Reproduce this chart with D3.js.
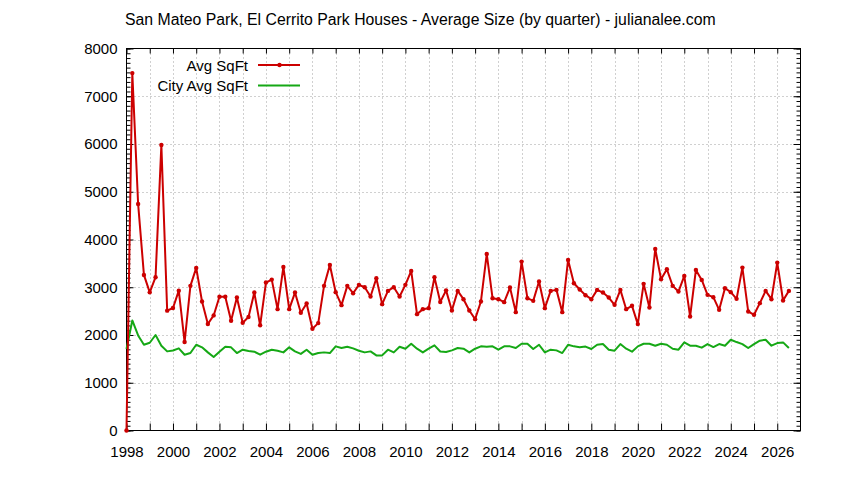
<!DOCTYPE html>
<html>
<head>
<meta charset="utf-8">
<script src="https://cdn.jsdelivr.net/npm/d3@7"></script>
<style>
  html, body { margin: 0; padding: 0; background: #ffffff; }
  svg { display: block; }
  text { font-family: "Liberation Sans", Arial, sans-serif; fill: #000; }
</style>
</head>
<body>
<svg id="chart" width="844" height="480"></svg>
<script>
// ---- data (quarterly, decimal year) ----
const quarters = [
  1998.00, 1998.25, 1998.50, 1998.75,
  1999.00, 1999.25, 1999.50, 1999.75,
  2000.00, 2000.25, 2000.50, 2000.75,
  2001.00, 2001.25, 2001.50, 2001.75,
  2002.00, 2002.25, 2002.50, 2002.75,
  2003.00, 2003.25, 2003.50, 2003.75,
  2004.00, 2004.25, 2004.50, 2004.75,
  2005.00, 2005.25, 2005.50, 2005.75,
  2006.00, 2006.25, 2006.50, 2006.75,
  2007.00, 2007.25, 2007.50, 2007.75,
  2008.00, 2008.25, 2008.50, 2008.75,
  2009.00, 2009.25, 2009.50, 2009.75,
  2010.00, 2010.25, 2010.50, 2010.75,
  2011.00, 2011.25, 2011.50, 2011.75,
  2012.00, 2012.25, 2012.50, 2012.75,
  2013.00, 2013.25, 2013.50, 2013.75,
  2014.00, 2014.25, 2014.50, 2014.75,
  2015.00, 2015.25, 2015.50, 2015.75,
  2016.00, 2016.25, 2016.50, 2016.75,
  2017.00, 2017.25, 2017.50, 2017.75,
  2018.00, 2018.25, 2018.50, 2018.75,
  2019.00, 2019.25, 2019.50, 2019.75,
  2020.00, 2020.25, 2020.50, 2020.75,
  2021.00, 2021.25, 2021.50, 2021.75,
  2022.00, 2022.25, 2022.50, 2022.75,
  2023.00, 2023.25, 2023.50, 2023.75,
  2024.00, 2024.25, 2024.50, 2024.75,
  2025.00, 2025.25, 2025.50, 2025.75,
  2026.00, 2026.25, 2026.50
];

const avgSqFt = [
  0, 7485, 4745, 3258,
  2893, 3210, 5980, 2510,
  2565, 2928, 1852, 3029,
  3405, 2702, 2230, 2410,
  2802, 2802, 2298, 2785,
  2256, 2378, 2889, 2203,
  3098, 3160, 2541, 3425,
  2541, 2889, 2465, 2660,
  2131, 2249, 3029, 3467,
  2897, 2625, 3029, 2875,
  3050, 3001, 2806, 3189,
  2646, 2924, 3001, 2806,
  3050, 3342, 2437, 2541,
  2562, 3210, 2690, 2935,
  2513, 2924, 2750, 2513,
  2332, 2702, 3697, 2771,
  2750, 2688, 2994, 2479,
  3537, 2771, 2715, 3119,
  2562, 2924, 2945, 2479,
  3572, 3084, 2952, 2834,
  2750, 2945, 2889, 2785,
  2632, 2945, 2541, 2611,
  2228, 3071, 2576, 3802,
  3168, 3377, 3029, 2910,
  3238, 2388, 3363, 3154,
  2841, 2792, 2527, 2980,
  2897, 2757, 3412, 2493,
  2423, 2667, 2924, 2750,
  3516, 2722, 2924
];

const cityAvgSqFt = [
  1706, 2304, 1990, 1796,
  1838, 2000, 1775, 1657,
  1675, 1720, 1587, 1622,
  1796, 1741, 1636, 1539,
  1650, 1755, 1741, 1622,
  1692, 1664, 1650, 1587,
  1650, 1692, 1671, 1636,
  1741, 1657, 1604, 1690,
  1587, 1622, 1636, 1622,
  1762, 1727, 1755, 1720,
  1671, 1636, 1657, 1573,
  1573, 1692, 1636, 1755,
  1713, 1817, 1713, 1636,
  1713, 1783, 1655, 1645,
  1678, 1727, 1713, 1636,
  1713, 1762, 1755, 1762,
  1692, 1762, 1762, 1727,
  1817, 1817, 1706, 1796,
  1636, 1692, 1678, 1622,
  1796, 1762, 1745, 1758,
  1706, 1796, 1810, 1692,
  1671, 1810, 1713, 1650,
  1762, 1817, 1817, 1776,
  1817, 1796, 1713, 1692,
  1845, 1776, 1776, 1735,
  1810, 1748, 1810, 1776,
  1901, 1852, 1810, 1727,
  1810, 1880, 1901, 1776,
  1831, 1845, 1727
];

const xTickLabels = [1998, 2000, 2002, 2004, 2006, 2008, 2010, 2012, 2014, 2016, 2018, 2020, 2022, 2024, 2026];
const yTickLabels = [0, 1000, 2000, 3000, 4000, 5000, 6000, 7000, 8000];
const seriesNames = ["Avg SqFt", "City Avg SqFt"];
const titleText = "San Mateo Park, El Cerrito Park Houses - Average Size (by quarter) - julianalee.com";

// ---- layout ----
const W = 844, H = 480;
const plot = { left: 126.5, right: 800.5, top: 48.5, bottom: 430.5 };
const RED = "#cc0000", GREEN = "#15a815";
const FONT = "15px";

const svg = d3.select("#chart");

const x = d3.scaleLinear().domain([1998, 2027]).range([plot.left, plot.right]);
const y = d3.scaleLinear().domain([0, 8000]).range([plot.bottom, plot.top]);

const yearTicks = d3.range(1998, 2028);       // tick every year
const yMinor = d3.range(0, 8001, 100);         // minor every 100

// grid
const grid = svg.append("g").attr("stroke", "#a0a0a0").attr("stroke-width", 1)
  .attr("stroke-dasharray", "1,3");
grid.selectAll("line.v").data(yearTicks.filter(d => d > 1998 && d < 2027)).enter()
  .append("line")
  .attr("x1", d => Math.round(x(d)) + 0.5).attr("x2", d => Math.round(x(d)) + 0.5)
  .attr("y1", plot.bottom).attr("y2", plot.top);
grid.selectAll("line.h").data(yTickLabels.filter(d => d > 0 && d < 8000)).enter()
  .append("line")
  .attr("x1", plot.left).attr("x2", plot.right)
  .attr("y1", d => Math.round(y(d)) + 0.5).attr("y2", d => Math.round(y(d)) + 0.5);

// axes using d3 axis generators (inward ticks)
const axBottom = d3.axisBottom(x).tickValues(yearTicks.filter(d => d <= 2026))
  .tickSize(-7).tickPadding(16).tickFormat(d => xTickLabels.includes(d) ? String(d) : "");
svg.append("g").attr("transform", `translate(0,${plot.bottom})`).call(axBottom);

const axTop = d3.axisTop(x).tickValues(yearTicks.filter(d => d <= 2026))
  .tickSize(-5).tickFormat("");
svg.append("g").attr("transform", `translate(0,${plot.top})`).call(axTop);

const axLeftMinor = d3.axisLeft(y).tickValues(yMinor).tickSize(-4).tickFormat("");
svg.append("g").attr("transform", `translate(${plot.left},0)`).call(axLeftMinor);
const axLeft = d3.axisLeft(y).tickValues(yTickLabels).tickSize(-7).tickPadding(9)
  .tickFormat(d3.format("d"));
svg.append("g").attr("transform", `translate(${plot.left},0)`).call(axLeft);

const axRightMinor = d3.axisRight(y).tickValues(yMinor).tickSize(-4).tickFormat("");
svg.append("g").attr("transform", `translate(${plot.right},0)`).call(axRightMinor);
const axRight = d3.axisRight(y).tickValues(yTickLabels).tickSize(-7).tickFormat("");
svg.append("g").attr("transform", `translate(${plot.right},0)`).call(axRight);

svg.selectAll(".domain").remove();
svg.selectAll(".tick line").attr("stroke", "#000").attr("stroke-width", 1);
svg.selectAll(".tick text").style("font-family", "'Liberation Sans', Arial, sans-serif")
  .style("font-size", FONT).attr("fill", "#000");

// border
svg.append("rect")
  .attr("x", plot.left).attr("y", plot.top)
  .attr("width", plot.right - plot.left).attr("height", plot.bottom - plot.top)
  .attr("fill", "none").attr("stroke", "#000").attr("stroke-width", 1);

// series
const red = quarters.map((q, i) => [q, avgSqFt[i]]);
const green = quarters.map((q, i) => [q, cityAvgSqFt[i]]);
const line = d3.line().x(d => x(d[0])).y(d => y(d[1]));

svg.append("path").datum(green).attr("d", line)
  .attr("fill", "none").attr("stroke", GREEN).attr("stroke-width", 2)
  .attr("stroke-linejoin", "round");

svg.append("path").datum(red).attr("d", line)
  .attr("fill", "none").attr("stroke", RED).attr("stroke-width", 2)
  .attr("stroke-linejoin", "round");
svg.append("g").selectAll("circle").data(red).enter().append("circle")
  .attr("cx", d => x(d[0])).attr("cy", d => y(d[1])).attr("r", 2.2)
  .attr("fill", RED);

// legend
const legend = svg.append("g");
const legRows = [
  { name: seriesNames[0], color: RED, pts: true, ty: 70.7, ly: 65 },
  { name: seriesNames[1], color: GREEN, pts: false, ty: 91, ly: 85.5 }
];
legRows.forEach(r => {
  legend.append("text").attr("x", 248).attr("y", r.ty)
    .attr("text-anchor", "end").style("font-size", FONT).text(r.name);
  legend.append("line").attr("x1", 258).attr("x2", 300)
    .attr("y1", r.ly).attr("y2", r.ly)
    .attr("stroke", r.color).attr("stroke-width", 2);
  if (r.pts) legend.append("circle").attr("cx", 279.5).attr("cy", r.ly).attr("r", 2.2).attr("fill", r.color);
});

// title
svg.append("text").attr("x", 125).attr("y", 24.5).style("font-size", "15.8px").text(titleText);
</script>
</body>
</html>
